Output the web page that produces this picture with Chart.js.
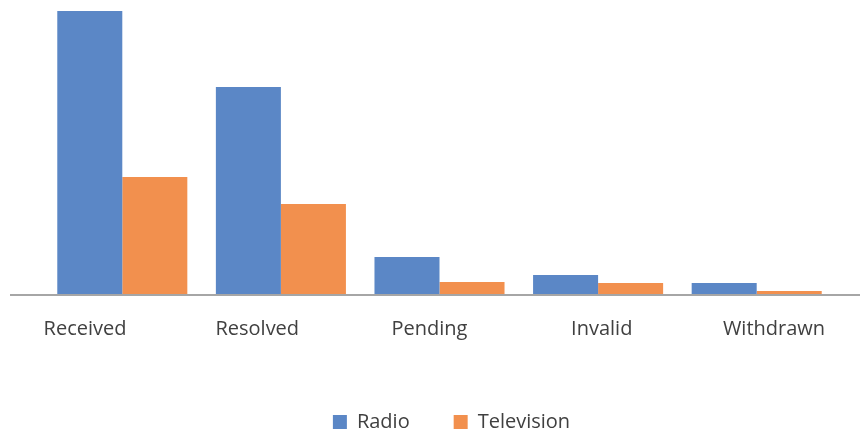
<!DOCTYPE html>
<html>
<head>
<meta charset="utf-8">
<script src="https://cdn.jsdelivr.net/npm/chart.js@4"></script>
<style>
  html, body { margin: 0; padding: 0; background: #fff; }
  #wrap { width: 860px; height: 434px; }
</style>
</head>
<body>
<div id="wrap"><canvas id="complaintsChart"></canvas></div>
<script>
// values (no axis shown, so units are relative)
const categories = ["Received", "Resolved", "Pending", "Invalid", "Withdrawn"];
const radio = [283, 207, 37, 19, 11];
const television = [117, 90, 12, 11, 3];

// long baseline across the whole width, like the original
const baseline = {
  id: 'baseline',
  afterLayout(chart) {
    // legend in the original sits a little right of centre
    chart.legend.left += 12;
    chart.legend.right += 12;
  },
  afterDatasetsDraw(chart) {
    const { ctx, chartArea } = chart;
    ctx.save();
    ctx.strokeStyle = '#a6a6a6';
    ctx.lineWidth = 2;
    ctx.beginPath();
    ctx.moveTo(10, chartArea.bottom + 1);
    ctx.lineTo(860, chartArea.bottom + 1);
    ctx.stroke();
    ctx.restore();
  }
};

const ctx = document.getElementById('complaintsChart').getContext('2d');
const complaintsChart = new Chart(ctx, {
  type: 'bar',
  data: {
    labels: categories,
    datasets: [{
      label: 'Radio',
      data: radio,
      backgroundColor: '#5b87c6'
    }, {
      label: 'Television',
      data: television,
      backgroundColor: '#f2904e'
    }]
  },
  options: {
    responsive: true,
    maintainAspectRatio: false,
    animation: false,
    layout: { padding: { left: 43, right: 24, top: 0, bottom: -8 } },
    datasets: {
      bar: { categoryPercentage: 0.82, barPercentage: 1.0 }
    },
    scales: {
      x: {
        display: false
      },
      // the labels in the original are spaced a bit wider than the bars
      labelsAxis: {
        type: 'linear',
        position: 'bottom',
        offset: false,
        min: -0.244,
        max: 4.36,
        grid: { display: false, drawTicks: false, offset: false },
        border: { display: false },
        ticks: {
          stepSize: 1,
          includeBounds: false,
          autoSkip: false,
          maxRotation: 0,
          color: '#404040',
          font: { family: 'Open Sans', size: 20 },
          padding: 23,
          callback: (v) => Number.isInteger(v) ? categories[v] : ''
        },
        afterFit(scale) { scale.height = 74; }
      },
      y: {
        display: false,
        min: 0,
        max: 294
      }
    },
    plugins: {
      legend: {
        position: 'bottom',
        labels: {
          color: '#404040',
          font: { family: 'Open Sans', size: 20 },
          boxWidth: 14,
          boxHeight: 14,
          padding: 44
        }
      },
      tooltip: { enabled: false }
    }
  },
  plugins: [baseline]
});
</script>
</body>
</html>
